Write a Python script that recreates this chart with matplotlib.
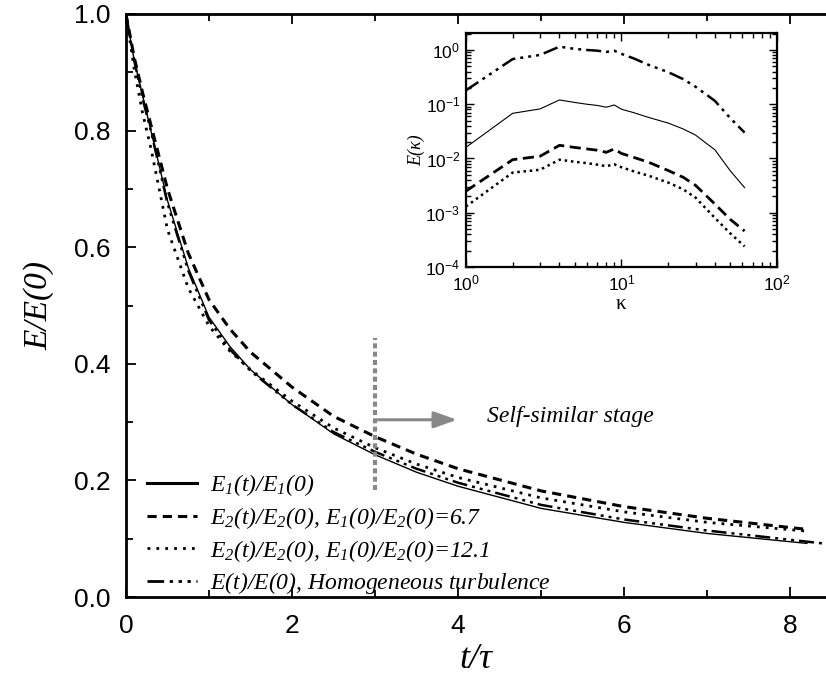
import matplotlib
matplotlib.use("Agg")
import matplotlib.pyplot as plt
from matplotlib.lines import Line2D
from matplotlib.ticker import MultipleLocator, LogLocator, NullFormatter

plt.rcParams["font.family"] = "Liberation Sans"
plt.rcParams["mathtext.fontset"] = "custom"
plt.rcParams["mathtext.it"] = "Liberation Serif:italic"
plt.rcParams["mathtext.rm"] = "Liberation Serif:italic"

# main panel: energy decay
t = [0, 0.1, 0.2, 0.3, 0.5, 0.75, 1.0, 1.25, 1.5, 2.0, 2.5, 3.0, 3.5, 4.0, 5.0, 6.0, 7.0, 8.2]
e1 = [1.0, 0.92, 0.86, 0.80, 0.68, 0.565, 0.48, 0.43, 0.39, 0.33, 0.28, 0.244, 0.214, 0.19, 0.152, 0.128, 0.109, 0.092]
e2_67 = [1.0, 0.925, 0.865, 0.81, 0.70, 0.59, 0.51, 0.46, 0.42, 0.36, 0.31, 0.275, 0.245, 0.22, 0.182, 0.155, 0.135, 0.116]
e2_121 = [1.0, 0.905, 0.83, 0.77, 0.63, 0.53, 0.465, 0.422, 0.39, 0.336, 0.29, 0.256, 0.228, 0.205, 0.17, 0.146, 0.128, 0.113]
t_hom = [0, 0.1, 0.2, 0.3, 0.5, 0.75, 1.0, 1.25, 1.5, 2.0, 2.5, 3.0, 3.5, 4.0, 5.0, 6.0, 7.0, 8.2, 8.45]
e_hom = [1.0, 0.92, 0.855, 0.80, 0.675, 0.56, 0.475, 0.425, 0.388, 0.33, 0.283, 0.249, 0.22, 0.196, 0.158, 0.133, 0.114, 0.095, 0.091]

# inset: spectra
kappa = [1, 2, 3, 4, 5, 6, 7, 8, 9, 10, 12, 15, 20, 25, 30, 40, 50, 62]
spec_hom = [0.18, 0.68, 0.81, 1.15, 1.05, 1.0, 0.97, 0.92, 0.97, 0.85, 0.70, 0.53, 0.39, 0.29, 0.21, 0.115, 0.056, 0.030]
spec_e1 = [0.016, 0.068, 0.082, 0.12, 0.108, 0.1, 0.095, 0.088, 0.097, 0.081, 0.07, 0.057, 0.045, 0.035, 0.027, 0.0144, 0.006, 0.0029]
spec_67 = [0.0025, 0.0095, 0.011, 0.0175, 0.016, 0.015, 0.0142, 0.013, 0.015, 0.0124, 0.0105, 0.0085, 0.006, 0.0045, 0.0032, 0.00144, 0.00076, 0.00046]
spec_121 = [0.0013, 0.0055, 0.0062, 0.0095, 0.0087, 0.0082, 0.0077, 0.0072, 0.0078, 0.0069, 0.0058, 0.0048, 0.0036, 0.0027, 0.0019, 0.0008, 0.00042, 0.00024]

labels = [
    r"$E_1(t)/E_1(0)$",
    r"$E_2(t)/E_2(0)$, $E_1(0)/E_2(0)$=6.7",
    r"$E_2(t)/E_2(0)$, $E_1(0)/E_2(0)$=12.1",
    r"$E(t)/E(0)$, Homogeneous turbulence",
]

DASHDOT = (0, (6, 2, 1.2, 2, 1.2, 2, 1.2, 2))
SERIF = "Liberation Serif"

fig = plt.figure(figsize=(8.26, 6.86), dpi=100)
ax = fig.add_axes([0.1525, 0.1297, 0.8475, 0.8499])

ax.plot(t, e1, color="black", lw=1.0)
ax.plot(t, e2_67, color="black", lw=2.2, ls=(0, (3, 2)))
ax.plot(t, e2_121, color="black", lw=2.0, ls=(0, (1, 2.2)))
ax.plot(t_hom, e_hom, color="black", lw=1.8, ls=DASHDOT)

# self-similar stage marker
ax.plot([3, 3], [0.184, 0.444], color="#888888", lw=3, ls=(0, (1.2, 0.8)))
ax.annotate("", xy=(4.02, 0.304), xytext=(3.0, 0.304),
            arrowprops=dict(arrowstyle="-|>,head_length=1.4,head_width=0.5",
                            color="#888888", lw=2.2))
ax.text(4.35, 0.31, "Self-similar stage", family=SERIF, style="italic",
        fontsize=17, va="center", ha="left")

ax.set_xlim(0, 8.43)
ax.set_ylim(0, 1.0)
ax.xaxis.set_major_locator(MultipleLocator(2))
ax.xaxis.set_minor_locator(MultipleLocator(1))
ax.yaxis.set_major_locator(MultipleLocator(0.2))
ax.yaxis.set_minor_locator(MultipleLocator(0.1))
ax.yaxis.set_major_formatter(plt.FuncFormatter(lambda v, p: f"{v:.1f}"))
ax.tick_params(which="both", direction="in", top=True, right=False,
               labelsize=19, width=1.3)
ax.tick_params(axis="y", pad=11)
ax.tick_params(axis="x", pad=12)
ax.tick_params(which="major", length=7)
ax.tick_params(which="minor", length=5)
for side in ["left", "top", "bottom"]:
    ax.spines[side].set_linewidth(2.0)
ax.spines["right"].set_visible(False)

ax.set_xlabel("t/τ", family=SERIF, style="italic", fontsize=26, labelpad=4)
ax.set_ylabel("E/E(0)", family=SERIF, style="italic", fontsize=24, labelpad=14)

handles = [
    Line2D([], [], color="black", lw=2.2),
    Line2D([], [], color="black", lw=2.2, ls=(0, (3, 2))),
    Line2D([], [], color="black", lw=2.0, ls=(0, (1, 2.2))),
    Line2D([], [], color="black", lw=2.0, ls=DASHDOT),
]
ax.legend(handles, labels, loc="lower left", bbox_to_anchor=(0.0, -0.035),
          frameon=False, handlelength=2.1, handletextpad=0.55, labelspacing=0.28,
          prop=dict(family=SERIF, style="italic", size=17))

# inset
ins = fig.add_axes([0.564, 0.6108, 0.3765, 0.341])
ins.loglog(kappa, spec_hom, color="black", lw=1.8, ls=DASHDOT)
ins.loglog(kappa, spec_e1, color="black", lw=0.8)
ins.loglog(kappa, spec_67, color="black", lw=2.0, ls=(0, (4, 2)))
ins.loglog(kappa, spec_121, color="black", lw=1.8, ls=(0, (1, 1.5)))
ins.set_xlim(1, 100)
ins.set_ylim(1e-4, 2.05)
ins.yaxis.set_major_locator(LogLocator(base=10, numticks=10))
ins.yaxis.set_minor_locator(LogLocator(base=10, subs=range(2, 10), numticks=10))
ins.yaxis.set_minor_formatter(NullFormatter())
ins.xaxis.set_minor_formatter(NullFormatter())
ins.tick_params(which="both", direction="in", top=True, right=True, labelsize=12.5, width=1.0)
ins.tick_params(axis="y", pad=4)
ins.tick_params(axis="x", pad=5)
ins.tick_params(which="major", length=6)
ins.tick_params(which="minor", length=3.5)
for s in ins.spines.values():
    s.set_linewidth(1.6)
ins.set_xlabel("κ", family=SERIF, fontsize=15, labelpad=1)
ins.set_ylabel("E(κ)", family=SERIF, style="italic", fontsize=13, labelpad=0)

fig.savefig("out.png", dpi=100)
